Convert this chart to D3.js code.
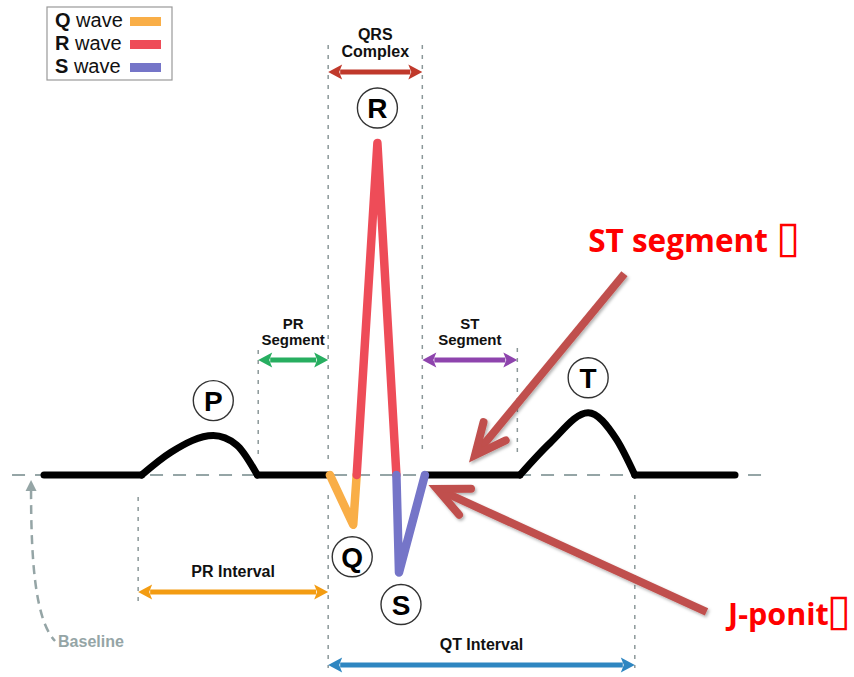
<!DOCTYPE html>
<html>
<head>
<meta charset="utf-8">
<script src="https://cdn.jsdelivr.net/npm/d3@7"></script>
<style>
  body { margin: 0; background: #fff; }
  svg { display: block; font-family: "Liberation Sans", Arial, sans-serif; }
</style>
</head>
<body>
<svg width="854" height="677"></svg>
<script>
// ECG complex: time in ms, amplitude in mV

// flat parts of the trace [from, to]
const flatParts = [[0, 113], [247, 331], [441, 551], [684, 800]];
// waves [ms, mV]
const pWave = [[113, 0], [147, 0.11], [196, 0.19], [223, 0.145], [247, 0]];
const tWave = [[551, 0], [586, 0.155], [630, 0.30], [663, 0.17], [684, 0]];
const qWave = [[331, 0], [358, -0.24], [362, 0]];
const rWave = [[362, 0], [386, 1.6], [408, 0]];
const sWave = [[408, 0], [411, -0.47], [441, 0]];

const waveNames = ["P", "Q", "R", "S", "T"];
const wavePeaks = [pWave[2], qWave[1], rWave[1], sWave[1], tWave[2]];

const legendNames = ["Q", "R", "S"];

// time marks (ms)
const marks = { pOn: 109, pOff: 248, qrsOn: 329, j: 438, stOff: 548, tOff: 684 };

const spanLabels = [["QRS", "Complex"], ["PR", "Segment"], ["ST", "Segment"], ["PR Interval"], ["QT Interval"]];
const spanRanges = [["qrsOn", "j"], ["pOff", "qrsOn"], ["j", "stOff"], ["pOn", "qrsOn"], ["qrsOn", "tOff"]];

// red notes: tail and tip in [ms, mV]
const noteLabels = ["ST segment ", "J-ponit"];
const noteTails = [[672, 0.97], [767, -0.66]];
const noteTips = [[499, 0.096], [455, -0.067]];

// --- styles ---
const waveColor = { Q: "#f9ae47", R: "#ee4c58", S: "#7575c8" };
const spanColor = ["#c0392b", "#27ae60", "#8e44ad", "#f39c12", "#2e86c1"];
const spanY = [72, 360, 360, 592, 665];
const spanFont = [16, 15, 15, 16, 16];
const guideGrey = "#8c9899";
const baseGrey = "#95a5a6";

const svg = d3.select("svg");
const x = d3.scaleLinear().domain([0, 800]).range([44, 735]);
const y = d3.scaleLinear().domain([0, 1.6]).range([475, 143]);

const defs = svg.append("defs");
defs.append("filter").attr("id", "shadow")
  .attr("x", "-20%").attr("y", "-20%").attr("width", "140%").attr("height", "140%")
  .append("feDropShadow")
  .attr("dx", 1.5).attr("dy", 2).attr("stdDeviation", 1.5)
  .attr("flood-color", "#000").attr("flood-opacity", 0.3);

// baseline
svg.append("line")
  .attr("x1", x(-37)).attr("x2", x(835))
  .attr("y1", y(0)).attr("y2", y(0))
  .attr("stroke", baseGrey).attr("stroke-width", 2)
  .attr("stroke-dasharray", "13,10");

// vertical guides
const guides = [
  ["pOn", 497, 603], ["pOff", 350, 455], ["qrsOn", 45, 465], ["qrsOn", 495, 668],
  ["j", 45, 452], ["stOff", 348, 452], ["tOff", 495, 668]
];
svg.append("g").selectAll("line")
  .data(guides).enter().append("line")
  .attr("x1", d => x(marks[d[0]])).attr("x2", d => x(marks[d[0]]))
  .attr("y1", d => d[1]).attr("y2", d => d[2])
  .attr("stroke", guideGrey).attr("stroke-width", 1.5)
  .attr("stroke-dasharray", "4,6");

// trace
const lineStraight = d3.line().x(d => x(d[0])).y(d => y(d[1]));
const lineSmooth = d3.line().x(d => x(d[0])).y(d => y(d[1])).curve(d3.curveMonotoneX);

const trace = svg.append("g")
  .attr("fill", "none").attr("stroke-linecap", "round").attr("stroke-linejoin", "round");

flatParts.forEach(p => {
  trace.append("path").attr("d", lineStraight([[p[0], 0], [p[1], 0]]))
    .attr("stroke", "#000").attr("stroke-width", 7);
});
[pWave, tWave].forEach(w => {
  trace.append("path").attr("d", lineSmooth(w))
    .attr("stroke", "#000").attr("stroke-width", 7);
});
[[qWave, "Q"], [rWave, "R"], [sWave, "S"]].forEach(([w, k]) => {
  trace.append("path").attr("d", lineStraight(w))
    .attr("stroke", waveColor[k]).attr("stroke-width", 8.5);
});

// wave letters in circles
const letters = svg.append("g");
waveNames.forEach((n, i) => {
  const pk = wavePeaks[i];
  const cx = x(pk[0]) + (n === "S" ? 2 : n === "Q" ? -1 : 0);
  const cy = y(pk[1]) + (pk[1] < 0 ? 32 : -35);
  letters.append("circle")
    .attr("cx", cx).attr("cy", cy).attr("r", 20)
    .attr("fill", "#fff").attr("stroke", "#333").attr("stroke-width", 1.4);
  letters.append("text")
    .attr("x", cx).attr("y", cy).attr("dy", "0.36em")
    .attr("text-anchor", "middle")
    .style("font-size", "28px").style("font-weight", 700)
    .text(n);
});

// double arrows for spans
function doubleArrow(g, x1, x2, yy, color) {
  const hl = 14, hw = 7.5;
  g.append("line")
    .attr("x1", x1 + hl - 2).attr("x2", x2 - hl + 2)
    .attr("y1", yy).attr("y2", yy)
    .attr("stroke", color).attr("stroke-width", 5);
  g.append("path")
    .attr("d", `M${x1},${yy} L${x1 + hl},${yy - hw} L${x1 + hl - 3},${yy} L${x1 + hl},${yy + hw} Z`)
    .attr("fill", color);
  g.append("path")
    .attr("d", `M${x2},${yy} L${x2 - hl},${yy - hw} L${x2 - hl + 3},${yy} L${x2 - hl},${yy + hw} Z`)
    .attr("fill", color);
}

const spans = svg.append("g");
spanLabels.forEach((lab, i) => {
  const x1 = x(marks[spanRanges[i][0]]);
  const x2 = x(marks[spanRanges[i][1]]);
  const yy = spanY[i];
  doubleArrow(spans, x1, x2, yy, spanColor[i]);
  const fs = spanFont[i];
  const lh = fs + 1;
  lab.forEach((t, k) => {
    spans.append("text")
      .attr("x", (x1 + x2) / 2)
      .attr("y", yy - 15 - (lab.length - 1 - k) * lh)
      .attr("text-anchor", "middle")
      .style("font-size", fs + "px").style("font-weight", 700)
      .attr("fill", "#111")
      .text(t);
  });
});

// baseline pointer
const tipX = x(-15), tipY = y(0) + 5;
svg.append("path")
  .attr("d", `M${tipX},${tipY + 10} C${tipX},${tipY + 80} ${tipX + 4},${tipY + 140} ${tipX + 24},${tipY + 161}`)
  .attr("fill", "none").attr("stroke", baseGrey).attr("stroke-width", 2.5)
  .attr("stroke-dasharray", "9,6");
svg.append("path")
  .attr("d", `M${tipX},${tipY} L${tipX - 5.5},${tipY + 11} L${tipX + 5.5},${tipY + 11} Z`)
  .attr("fill", baseGrey);
svg.append("text")
  .attr("x", tipX + 27).attr("y", tipY + 167)
  .attr("fill", baseGrey)
  .style("font-size", "16px").style("font-weight", 700)
  .text("Baseline");

// legend
const legend = svg.append("g").attr("transform", "translate(47,7)");
legend.append("rect")
  .attr("width", 125).attr("height", 73)
  .attr("fill", "#fff").attr("stroke", "#999").attr("stroke-width", 1.2);
legendNames.forEach((n, i) => {
  const row = legend.append("g").attr("transform", `translate(0,${20 + i * 23})`);
  const t = row.append("text").attr("x", 8).attr("y", 0)
    .style("font-size", "20px").attr("fill", "#111");
  t.append("tspan").style("font-weight", 700).text(n);
  t.append("tspan").text(" wave");
  row.append("rect")
    .attr("x", 83).attr("y", -10).attr("width", 31).attr("height", 9)
    .attr("fill", waveColor[n]);
});

// red notes
const notes = svg.append("g").attr("filter", "url(#shadow)");
noteTips.forEach((tip, i) => {
  const tx = x(tip[0]), ty = y(tip[1]);
  const sx = x(noteTails[i][0]), sy = y(noteTails[i][1]);
  const ang = Math.atan2(sy - ty, sx - tx);
  const al = 34, spread = 25 * Math.PI / 180;
  const a1 = [tx + al * Math.cos(ang - spread), ty + al * Math.sin(ang - spread)];
  const a2 = [tx + al * Math.cos(ang + spread), ty + al * Math.sin(ang + spread)];
  notes.append("line")
    .attr("x1", sx).attr("y1", sy).attr("x2", tx + 3 * Math.cos(ang)).attr("y2", ty + 3 * Math.sin(ang))
    .attr("stroke", "#c0504d").attr("stroke-width", 8);
  notes.append("path")
    .attr("d", `M${a1[0]},${a1[1]} L${tx},${ty} L${a2[0]},${a2[1]}`)
    .attr("fill", "none").attr("stroke", "#c0504d").attr("stroke-width", 8)
    .attr("stroke-linejoin", "miter").attr("stroke-linecap", "round");
});

const noteAt = [[630, 1.075], [792, -0.723]];
noteLabels.forEach((t, i) => {
  const txt = svg.append("text")
    .attr("x", x(noteAt[i][0])).attr("y", y(noteAt[i][1]))
    .attr("fill", "#ff0000")
    .style("font-family", "'Open Sans', sans-serif")
    .style("font-size", i === 0 ? "31.5px" : "30.5px").style("font-weight", 700);
  txt.append("tspan").text(t);
  txt.append("tspan")
    .attr("dx", i === 0 ? 0 : -2)
    .style("font-family", "'DejaVu Sans'").style("font-weight", 400)
    .style("font-size", "44px")
    .text("\u25AF");
});
</script>
</body>
</html>
